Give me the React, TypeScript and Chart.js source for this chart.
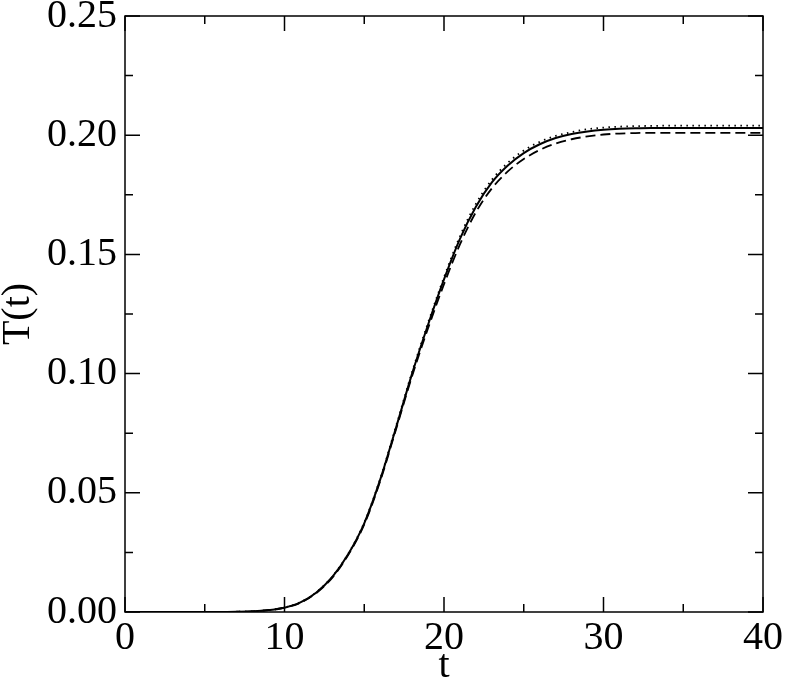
import React, { useEffect, useRef } from "react";
import { Chart, registerables } from "chart.js";

Chart.register(...registerables);

const tValues = [0,1,2,3,4,5,6,7,8,9,10,11,12,13,14,15,16,17,18,19,20,21,22,23,24,25,26,27,28,29,30,31,32,33,34,35,36,37,38,39,40];
const solidValues = [0,0,0,0,0,0,0,0.0001,0.0003,0.0008,0.0018,0.0040,0.0082,0.0147,0.0243,0.0372,0.0555,0.0775,0.1000,0.1205,0.1395,0.1565,0.1700,0.1802,0.1873,0.1925,0.1962,0.1988,0.2005,0.2016,0.2023,0.2027,0.2029,0.2030,0.2030,0.2030,0.2030,0.2030,0.2030,0.2030,0.2030];
const dashedValues = [0,0,0,0,0,0,0,0.0001,0.0003,0.0008,0.0018,0.0039,0.0080,0.0144,0.0240,0.0367,0.0549,0.0768,0.0990,0.1190,0.1375,0.1542,0.1677,0.1777,0.1848,0.1900,0.1938,0.1965,0.1983,0.1995,0.2003,0.2007,0.2009,0.2010,0.2010,0.2010,0.2010,0.2010,0.2010,0.2010,0.2010];
const dottedValues = [0,0,0,0,0,0,0,0.0001,0.0003,0.0008,0.0019,0.0041,0.0083,0.0149,0.0245,0.0375,0.0559,0.0781,0.1007,0.1213,0.1404,0.1576,0.1712,0.1813,0.1884,0.1936,0.1972,0.1997,0.2013,0.2025,0.2032,0.2036,0.2038,0.2039,0.2040,0.2040,0.2040,0.2040,0.2040,0.2040,0.2040];

const xMajorTicks = [0, 10, 20, 30, 40];
const xMinorTicks = [5, 15, 25, 35];
const yMajorTicks = [0, 0.05, 0.1, 0.15, 0.2, 0.25];
const yMinorTicks = [0.025, 0.075, 0.125, 0.175, 0.225];

const FONT = "'Liberation Serif', 'Times New Roman', serif";

const framePlugin = {
  id: "frame",
  afterDraw(chart: any) {
    const { ctx, chartArea } = chart;
    const { left, right, top, bottom } = chartArea;
    const xs = chart.scales.x;
    const ys = chart.scales.y;
    ctx.save();
    ctx.strokeStyle = "#000";
    ctx.lineWidth = 1.5;
    ctx.strokeRect(left, top, right - left, bottom - top);
    ctx.beginPath();
    const major = 15;
    const minor = 8;
    for (const v of xMajorTicks) {
      const px = xs.getPixelForValue(v);
      ctx.moveTo(px, bottom); ctx.lineTo(px, bottom - major);
      ctx.moveTo(px, top); ctx.lineTo(px, top + major);
    }
    for (const v of xMinorTicks) {
      const px = xs.getPixelForValue(v);
      ctx.moveTo(px, bottom); ctx.lineTo(px, bottom - minor);
      ctx.moveTo(px, top); ctx.lineTo(px, top + minor);
    }
    for (const v of yMajorTicks) {
      const py = ys.getPixelForValue(v);
      ctx.moveTo(left, py); ctx.lineTo(left + major, py);
      ctx.moveTo(right, py); ctx.lineTo(right - major, py);
    }
    for (const v of yMinorTicks) {
      const py = ys.getPixelForValue(v);
      ctx.moveTo(left, py); ctx.lineTo(left + minor, py);
      ctx.moveTo(right, py); ctx.lineTo(right - minor, py);
    }
    ctx.stroke();
    ctx.restore();
  },
};

export default function App() {
  const ref = useRef<HTMLCanvasElement | null>(null);
  useEffect(() => {
    if (!ref.current) return;
    const mk = (vals: number[]) => tValues.map((t, i) => ({ x: t, y: vals[i] }));
    const chart = new Chart(ref.current, {
      type: "line",
      data: {
        datasets: [
          { label: "dashed", data: mk(dashedValues), borderColor: "#000", borderWidth: 1.8, borderDash: [10, 5], pointRadius: 0, cubicInterpolationMode: "monotone", fill: false },
          { label: "solid", data: mk(solidValues), borderColor: "#000", borderWidth: 2, pointRadius: 0, cubicInterpolationMode: "monotone", fill: false },
          { label: "dotted", data: mk(dottedValues), borderColor: "#000", borderWidth: 1.8, borderDash: [1.5, 4.5], pointRadius: 0, cubicInterpolationMode: "monotone", fill: false },
        ],
      },
      options: {
        responsive: false,
        animation: false,
        maintainAspectRatio: false,
        layout: { padding: { top: 16, right: 22, left: 0, bottom: 0 } },
        plugins: { legend: { display: false }, tooltip: { enabled: false } },
        scales: {
          x: {
            type: "linear",
            min: 0,
            max: 40,
            afterFit(scale: any) { scale.height = 72; scale.paddingLeft = 0; scale.paddingRight = 0; },
            afterBuildTicks(scale: any) { scale.ticks = xMajorTicks.map((v) => ({ value: v })); },
            ticks: { color: "#000", font: { family: FONT, size: 40 }, padding: 2, maxRotation: 0, autoSkip: false },
            grid: { display: false, drawTicks: false },
            border: { display: false },
            title: { display: true, text: "t", color: "#000", font: { family: FONT, size: 40 }, padding: { top: 0, bottom: -6 } },
          },
          y: {
            type: "linear",
            min: 0,
            max: 0.25,
            afterFit(scale: any) { scale.width = 125; scale.paddingTop = 0; scale.paddingBottom = 0; },
            afterBuildTicks(scale: any) { scale.ticks = yMajorTicks.map((v) => ({ value: v })); },
            ticks: { color: "#000", font: { family: FONT, size: 40 }, padding: 8, autoSkip: false, callback: (v: any) => Number(v).toFixed(2) },
            grid: { display: false, drawTicks: false },
            border: { display: false },
            title: { display: true, text: "T(t)", color: "#000", font: { family: FONT, size: 40 }, padding: { top: -6, bottom: 0 } },
          },
        },
      },
      plugins: [framePlugin],
    });
    return () => chart.destroy();
  }, []);
  return (
    <div style={{ position: "fixed", left: 0, top: 0, width: 785, height: 684, background: "#fff" }}>
      <canvas ref={ref} width={785} height={684} style={{ display: "block" }} />
    </div>
  );
}
